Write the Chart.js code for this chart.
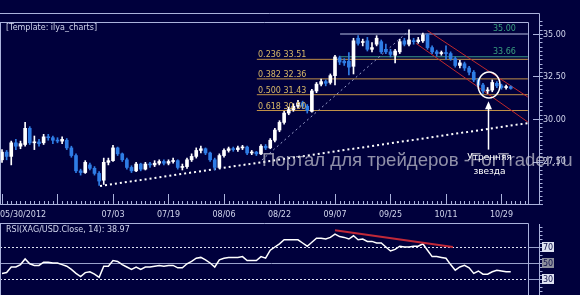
<!DOCTYPE html>
<html>
<head>
<meta charset="utf-8">
<script src="https://cdn.jsdelivr.net/npm/chart.js@4.4.0/dist/chart.umd.min.js"></script>
<style>
  html, body { margin: 0; padding: 0; background: #00003c; }
  #wrap { position: relative; width: 580px; height: 295px; overflow: hidden; background: #00003c; }
  canvas { position: absolute; left: 0; }
  #price { top: 0; }
  #rsi { top: 222px; }
</style>
</head>
<body>
<div id="wrap">
  <canvas id="price" width="580" height="222"></canvas>
  <canvas id="rsi" width="580" height="73"></canvas>
</div>
<script>
// trading days, 05/30/2012 .. 10/31/2012
const dates = ['05/30','05/31',
  '06/01','06/04','06/05','06/06','06/07','06/08','06/11','06/12','06/13','06/14','06/15','06/18','06/19','06/20','06/21','06/22','06/25','06/26','06/27','06/28','06/29',
  '07/02','07/03','07/04','07/05','07/06','07/09','07/10','07/11','07/12','07/13','07/16','07/17','07/18','07/19','07/20','07/23','07/24','07/25','07/26','07/27','07/30','07/31',
  '08/01','08/02','08/03','08/06','08/07','08/08','08/09','08/10','08/13','08/14','08/15','08/16','08/17','08/20','08/21','08/22','08/23','08/24','08/27','08/28','08/29','08/30','08/31',
  '09/03','09/04','09/05','09/06','09/07','09/10','09/11','09/12','09/13','09/14','09/17','09/18','09/19','09/20','09/21','09/24','09/25','09/26','09/27','09/28',
  '10/01','10/02','10/03','10/04','10/05','10/08','10/09','10/10','10/11','10/12','10/15','10/16','10/17','10/18','10/19','10/22','10/23','10/24','10/25','10/26','10/29','10/30','10/31'];

const opens = [27.6,28.05,27.8,28.6,28.4,28.5,29.45,28.6,28.65,28.6,
  28.95,28.9,28.75,28.7,28.75,28.3,27.85,26.95,26.85,27.3,
  27.1,26.8,26.4,27.45,27.55,28.3,27.95,27.6,27.15,26.95,
  27.35,27.05,27.35,27.3,27.4,27.5,27.4,27.5,27.55,27.15,
  27.2,27.6,27.8,28.15,28.25,28.0,27.6,27.15,27.85,28.15,
  28.25,28.2,28.3,28.35,28.0,28.05,27.95,28.4,28.3,28.75,
  29.35,29.8,30.35,30.55,30.75,30.95,30.75,30.45,31.65,32.05,
  32.2,32.15,32.55,33.6,33.4,33.4,33.1,34.75,34.5,34.6,
  34.1,34.4,34.55,34.1,33.95,33.75,33.95,34.6,34.4,34.6,
  34.55,34.6,34.95,34.2,33.95,33.85,33.9,33.85,33.55,33.15,
  33.25,33.0,32.75,32.3,32.0,31.65,31.7,32.1,31.95,31.85,31.9];
const highs = [28.2,28.15,28.7,28.8,28.7,29.8,29.55,29.0,28.8,29.1,
  29.1,29.0,28.9,28.95,28.85,28.4,27.95,27.05,27.55,27.4,
  27.2,26.9,27.7,27.7,28.45,28.35,28.0,27.7,27.25,27.45,
  27.4,27.45,27.45,27.55,27.6,27.6,27.6,27.7,27.6,27.35,
  27.7,27.95,28.3,28.4,28.3,28.05,27.7,27.95,28.25,28.35,
  28.35,28.4,28.45,28.4,28.15,28.1,28.5,28.5,28.85,29.45,
  29.9,30.45,30.7,30.9,31.1,31.05,30.85,31.75,32.15,32.35,
  32.3,32.65,33.75,33.7,33.55,33.9,34.75,34.9,34.7,34.8,
  34.5,34.9,34.65,34.4,34.1,34.1,34.7,34.75,35.25,34.75,
  34.8,35.05,35.0,34.3,34.05,34.0,34.3,33.95,33.65,33.45,
  33.35,33.1,32.85,32.4,32.1,31.85,32.3,32.2,32.05,32.0,31.95];
const lows = [27.45,27.6,27.3,28.2,28.25,28.4,28.5,28.2,28.4,28.5,
  28.75,28.55,28.6,28.55,28.2,27.75,26.85,26.7,26.8,27.0,
  26.7,26.1,26.15,27.3,27.5,27.85,27.5,27.05,26.85,26.9,
  26.95,27.0,27.15,27.2,27.3,27.3,27.3,27.4,27.05,27.0,
  27.1,27.5,27.7,28.0,27.9,27.5,27.0,27.1,27.75,28.05,
  28.1,28.1,28.2,27.9,27.9,27.85,27.9,28.2,28.25,28.65,
  29.25,29.7,30.25,30.45,30.65,30.6,30.35,30.4,31.55,31.95,
  31.95,32.05,32.0,33.2,33.15,32.6,32.65,34.35,34.3,34.0,
  33.95,34.3,33.85,33.85,33.65,33.3,33.85,34.3,34.3,34.4,
  34.45,34.5,34.1,33.85,33.7,33.75,33.5,33.45,33.05,33.0,
  32.85,32.6,32.2,31.9,31.5,31.5,31.6,31.85,31.75,31.75,31.75];
const closes = [28.05,27.8,28.6,28.4,28.55,29.45,28.6,28.65,28.55,28.95,
  28.9,28.75,28.7,28.8,28.3,27.85,26.95,26.85,27.45,27.1,
  26.8,26.35,27.45,27.55,28.3,27.95,27.6,27.15,26.95,27.35,
  27.05,27.35,27.3,27.4,27.5,27.4,27.5,27.55,27.15,27.2,
  27.6,27.8,28.15,28.25,28.0,27.6,27.15,27.85,28.15,28.25,
  28.2,28.3,28.35,28.0,28.05,27.95,28.4,28.3,28.75,29.35,
  29.8,30.35,30.55,30.75,30.95,30.75,30.5,31.65,32.05,32.2,
  32.1,32.55,33.65,33.35,33.3,33.05,34.6,34.45,34.55,34.1,
  34.2,34.75,33.95,33.95,33.8,34.0,34.55,34.4,34.65,34.55,
  34.65,34.95,34.2,33.95,33.85,33.9,33.85,33.55,33.15,33.3,
  33.0,32.75,32.3,32.0,31.65,31.7,32.15,31.95,31.85,31.9,31.8];

const rsi = [37,38,45,45,48,55,49,47,47,51,
  51,50,50,48,46,42,37,33,38,39,
  36,32,46,46,53,52,48,45,42,45,
  42,45,45,46,47,46,47,47,44,44,
  49,52,56,57,54,50,45,54,56,57,
  57,57,58,53,53,53,58,56,66,70,
  74,79,79,79,79,75,71,76,81,81,
  80,82,86,83,82,80,84,79,80,77,
  77,75,75,70,65,67,71,70,70,71,
  71,74,66,58,58,57,56,48,41,45,
  47,44,37,40,36,36,39,41,40,39,38.97];

const xTickDates = ['05/30','07/03','07/19','08/06','08/22','09/07','09/25','10/11','10/29'];
const yTicks = [35, 32.5, 30, 27.5];
const rsiTicks = [70, 50, 30];

const fibRatios = [0.236, 0.382, 0.5, 0.618];
const fibPrices = [33.51, 32.36, 31.43, 30.50];
const topLevels = [35.00, 33.66];

// trend lines as [index, price] pairs
const supportLine = [[21.2, 26.06], [113.7, 29.76]];
const rallyLine = [[56.2, 27.59], [88.2, 35.24]];
const channelTop = [[92.0, 35.2], [113.7, 31.29]];
const channelBottom = [[89.5, 34.45], [113.7, 29.82]];
const rsiDivergence = [[72, 91], [97.5, 70]];

const BG = '#00003c';
const FRAME = '#aab2dc';
const TEXT = '#d0d4ec';
const UP = '#ffffff';
const DOWN = '#2f7de6';
const FONT = '8px "DejaVu Sans"';

const X_MIN = -0.4324, X_MAX = 116.11;
const X_RIGHT = 113.7;

const candleColor = closes.map((c, i) => c >= opens[i] ? UP : DOWN);
const pts = arr => arr.map(p => ({x: p[0], y: p[1]}));

function seg(ctx, x1, y1, x2, y2) {
  ctx.beginPath(); ctx.moveTo(x1, y1); ctx.lineTo(x2, y2); ctx.stroke();
}

const priceDecor = {
  id: 'priceDecor',
  afterDraw(chart) {
    const {ctx, scales: {x, y}} = chart;
    ctx.save();
    ctx.font = FONT;
    ctx.textBaseline = 'alphabetic';

    // fib labels
    ctx.fillStyle = '#d8b868';
    ctx.textAlign = 'left';
    fibPrices.forEach((p, i) => {
      ctx.fillText(fibRatios[i].toFixed(3) + ' ' + p.toFixed(2), 258, y.getPixelForValue(p) - 2);
    });
    ctx.fillStyle = '#3aa080';
    topLevels.forEach(p => ctx.fillText(p.toFixed(2), 493, y.getPixelForValue(p) - 3));

    // frame
    ctx.strokeStyle = FRAME; ctx.lineWidth = 1;
    seg(ctx, 0, 13.5, 539.5, 13.5);
    seg(ctx, 0, 22.5, 528.5, 22.5);
    seg(ctx, 528.5, 22.5, 528.5, 204.5);
    seg(ctx, 539.5, 13.5, 539.5, 205);
    seg(ctx, 0, 204.5, 539.5, 204.5);
    seg(ctx, 0.5, 22.5, 0.5, 204.5);

    // y axis ticks
    for (let v = 25; v <= 35.75; v += 0.25) {
      const py = Math.round(y.getPixelForValue(v)) + 0.5;
      if (py < 14) continue;
      const major = Math.abs(v / 2.5 - Math.round(v / 2.5)) < 1e-6;
      seg(ctx, major ? 533 : 539.5, py, major ? 543 : 542.5, py);
    }
    ctx.fillStyle = TEXT;
    ctx.textBaseline = 'middle';
    yTicks.forEach(v => ctx.fillText(v.toFixed(2), 543, y.getPixelForValue(v) + 0.5));

    // x axis ticks
    for (let i = 0; i < dates.length + 6; i++) {
      const px = Math.round(x.getPixelForValue(i)) + 0.5;
      if (px > 528) break;
      seg(ctx, px, i % 12 === 0 ? 194 : 201, px, 204.5);
    }
    xTickDates.forEach((d, k) => {
      const px = x.getPixelForValue(dates.indexOf(d));
      if (k === 0) { ctx.textAlign = 'left'; ctx.fillText(d + '/2012', 0, 215); }
      else { ctx.textAlign = 'center'; ctx.fillText(d, px, 215); }
    });

    // template caption
    ctx.textAlign = 'left';
    ctx.fillText('[Template: ilya_charts]', 6, 28);

    // watermark
    const wm = 'Портал для трейдеров -ForTrader.ru';
    ctx.font = '18px "Liberation Sans"';
    const size = 18 * 311 / ctx.measureText(wm).width;
    ctx.font = size.toFixed(1) + 'px "Liberation Sans"';
    ctx.fillStyle = 'rgba(205,205,215,0.7)';
    ctx.textBaseline = 'alphabetic';
    ctx.fillText(wm, 262, 166);

    // morning star marker
    const cx = x.getPixelForValue(105.3), cy = y.getPixelForValue(32.0);
    ctx.strokeStyle = '#ffffff'; ctx.lineWidth = 1.5;
    ctx.beginPath(); ctx.ellipse(cx, cy, 11, 13, 0, 0, Math.PI * 2); ctx.stroke();
    const ax = Math.round(x.getPixelForValue(105)) + 0.5;
    const aTop = y.getPixelForValue(31.05), aBot = y.getPixelForValue(28.2);
    ctx.lineWidth = 1.5;
    seg(ctx, ax, aTop + 6, ax, aBot);
    ctx.fillStyle = '#ffffff';
    ctx.beginPath(); ctx.moveTo(ax, aTop); ctx.lineTo(ax - 3.5, aTop + 8); ctx.lineTo(ax + 3.5, aTop + 8); ctx.closePath(); ctx.fill();
    ctx.font = '9px "DejaVu Sans"';
    ctx.textAlign = 'center'; ctx.textBaseline = 'middle';
    ctx.fillText('Утренняя', ax + 1, 158);
    ctx.fillText('звезда', ax + 1, 172);
    ctx.restore();
  }
};

new Chart(document.getElementById('price'), {
  type: 'bar',
  data: {
    datasets: [
      { type: 'bar', data: dates.map((d, i) => ({x: i, y: [opens[i], closes[i]]})),
        backgroundColor: candleColor, barThickness: 3, grouped: false, minBarLength: 1, borderWidth: 0, order: 0 },
      { type: 'bar', data: dates.map((d, i) => ({x: i, y: [lows[i], highs[i]]})),
        backgroundColor: candleColor, barThickness: 1, grouped: false, borderWidth: 0, order: 1 },
      ...fibPrices.map(p => ({ type: 'line', data: pts([[55.1, p], [X_RIGHT, p]]),
        borderColor: '#c09048', borderWidth: 1, pointRadius: 0, order: 9 })),
      { type: 'line', data: pts([[73.1, topLevels[0]], [X_RIGHT, topLevels[0]]]),
        borderColor: '#b8c0e4', borderWidth: 1, pointRadius: 0, order: 9 },
      { type: 'line', data: pts([[73.1, topLevels[1]], [X_RIGHT, topLevels[1]]]),
        borderColor: '#3a9a88', borderWidth: 1, pointRadius: 0, order: 9 },
      { type: 'line', data: pts(supportLine), borderColor: '#ffffff', borderWidth: 2,
        borderDash: [2, 3], pointRadius: 0, order: 5 },
      { type: 'line', data: pts(rallyLine), borderColor: '#9aa0cc', borderWidth: 1,
        borderDash: [2, 3], pointRadius: 0, order: 5 },
      { type: 'line', data: pts(channelTop), borderColor: '#c0282c', borderWidth: 1, pointRadius: 0, order: 5 },
      { type: 'line', data: pts(channelBottom), borderColor: '#c0282c', borderWidth: 1, pointRadius: 0, order: 5 }
    ]
  },
  options: {
    responsive: false, animation: false, devicePixelRatio: 1,
    layout: { padding: { left: 0, right: 41, top: 22, bottom: 18 } },
    scales: {
      x: { type: 'linear', min: X_MIN, max: X_MAX, offset: false, display: false },
      y: { min: 25, max: 35 + 12 / 17, display: false }
    },
    plugins: { legend: { display: false }, tooltip: { enabled: false } }
  },
  plugins: [priceDecor]
});

const rsiDecor = {
  id: 'rsiDecor',
  beforeDatasetsDraw(chart) {
    const {ctx, scales: {y}} = chart;
    ctx.save();
    ctx.strokeStyle = '#9aa2cc'; ctx.lineWidth = 1;
    const y50 = Math.round(y.getPixelForValue(50)) + 0.5;
    seg(ctx, 0, y50, 543, y50);
    ctx.strokeStyle = '#e0e4f4'; ctx.setLineDash([2, 2]);
    [70, 30].forEach(v => {
      const py = Math.round(y.getPixelForValue(v)) + 0.5;
      seg(ctx, 0, py, 528, py);
    });
    ctx.setLineDash([]);
    ctx.strokeStyle = '#9aa2cc';
    [70, 30].forEach(v => {
      const py = Math.round(y.getPixelForValue(v)) + 0.5;
      seg(ctx, 528, py, 543, py);
    });
    ctx.restore();
  },
  afterDraw(chart) {
    const {ctx, scales: {y}} = chart;
    ctx.save();
    ctx.strokeStyle = FRAME; ctx.lineWidth = 1;
    seg(ctx, 0, 1.5, 528.5, 1.5);
    seg(ctx, 528.5, 1.5, 528.5, 73);
    seg(ctx, 539.5, 2, 539.5, 73);
    seg(ctx, 0.5, 1.5, 0.5, 73);
    for (let v = 10; v <= 95; v += 5) {
      const py = Math.round(y.getPixelForValue(v)) + 0.5;
      seg(ctx, 539.5, py, 542.5, py);
    }
    ctx.font = FONT;
    ctx.textBaseline = 'middle';
    rsiTicks.forEach(v => {
      const py = Math.round(y.getPixelForValue(v));
      ctx.fillStyle = v === 50 ? '#8c8e9c' : '#dde0f0';
      ctx.fillRect(542, py - 5, 12, 10);
      ctx.fillStyle = '#10104a';
      ctx.textAlign = 'center';
      ctx.fillText(String(v), 548, py + 0.5);
    });
    ctx.fillStyle = TEXT;
    ctx.textAlign = 'left';
    ctx.fillText('RSI(XAG/USD.Close, 14): ' + rsi[rsi.length - 1].toFixed(2), 6, 8);
    ctx.restore();
  }
};

new Chart(document.getElementById('rsi'), {
  type: 'line',
  data: {
    datasets: [
      { data: pts(rsiDivergence), borderColor: '#c02838', borderWidth: 2, pointRadius: 0, order: 0 },
      { data: rsi.map((v, i) => ({x: i, y: v})), borderColor: '#ffffff', borderWidth: 1.5,
        pointRadius: 0, tension: 0, order: 1 }
    ]
  },
  options: {
    responsive: false, animation: false, devicePixelRatio: 1,
    layout: { padding: { left: 0, right: 41, top: 1, bottom: 0 } },
    scales: {
      x: { type: 'linear', min: X_MIN, max: X_MAX, offset: false, display: false },
      y: { min: 10, max: 100, display: false }
    },
    plugins: { legend: { display: false }, tooltip: { enabled: false } }
  },
  plugins: [rsiDecor]
});
</script>
</body>
</html>
